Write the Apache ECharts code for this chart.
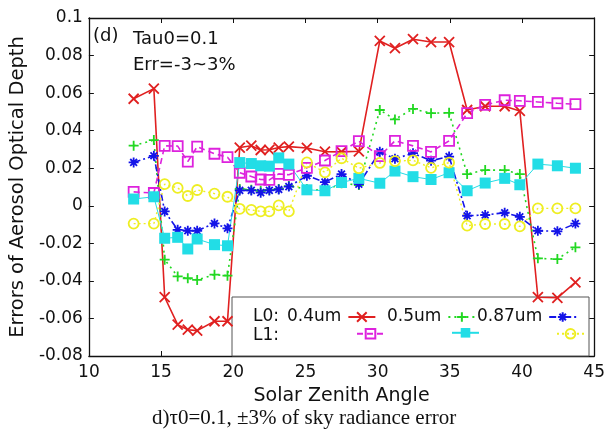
<!DOCTYPE html>
<html>
<head>
<meta charset="utf-8">
<script src="https://cdn.jsdelivr.net/npm/echarts@6/dist/echarts.min.js"></script>
<style>
  html, body { margin: 0; padding: 0; background: #fff; }
  #main { width: 608px; height: 437px; }
</style>
</head>
<body>
<div id="main"></div>
<script>
// solar zenith angles of the sky radiance samples
var zenith = [13.1, 14.5, 15.25, 16.15, 16.85, 17.5, 18.7, 19.6,
  20.45, 21.25, 21.9, 22.5, 23.15, 23.85, 25.1, 26.35, 27.5, 28.7,
  30.15, 31.2, 32.45, 33.7, 34.95, 36.2, 37.45, 38.8, 39.85, 41.1, 42.45, 43.7];

// L0 retrievals
var l0_04 = [0.057, 0.0624, -0.0487, -0.0633, -0.066, -0.0665, -0.0615, -0.0615,
  0.031, 0.032, 0.0297, 0.0298, 0.031, 0.0315, 0.0308, 0.0288, 0.0287, 0.029,
  0.0878, 0.0839, 0.0887, 0.0872, 0.0872, 0.051, 0.053, 0.053, 0.0505, -0.0487, -0.049, -0.0408];
var l0_05 = [0.032, 0.035, -0.0287, -0.0376, -0.0386, -0.0395, -0.0367, -0.0372,
  0.009, 0.0085, 0.008, 0.0085, 0.009, 0.0105, 0.009, 0.008, 0.012, 0.011,
  0.051, 0.046, 0.0516, 0.0493, 0.0495, 0.0169, 0.019, 0.019, 0.0169, -0.028, -0.0284, -0.0221];
var l0_087 = [0.0231, 0.0266, -0.003, -0.0128, -0.0133, -0.0133, -0.0094, -0.012,
  0.0082, 0.0082, 0.007, 0.0082, 0.0087, 0.0102, 0.016, 0.0126, 0.0169, 0.0115,
  0.0288, 0.025, 0.028, 0.024, 0.0262, -0.0053, -0.0049, -0.0037, -0.0059, -0.0133, -0.0136, -0.0095];

// L1 retrievals
var l1_04 = [0.0074, 0.0068, 0.0319, 0.0318, 0.0235, 0.0315, 0.0277, 0.0259,
  0.0176, 0.0156, 0.014, 0.0138, 0.017, 0.0165, 0.0202, 0.0241, 0.0291, 0.0344,
  0.0264, 0.0346, 0.0319, 0.0287, 0.0346, 0.0493, 0.0537, 0.0562, 0.0559, 0.0553, 0.0546, 0.0541];
var l1_05 = [0.0036, 0.0048, -0.0173, -0.0168, -0.023, -0.0177, -0.0207, -0.0213,
  0.023, 0.0225, 0.0213, 0.0211, 0.0255, 0.0222, 0.0085, 0.008, 0.0124, 0.0146,
  0.012, 0.0185, 0.0155, 0.014, 0.0176, 0.008, 0.0121, 0.0146, 0.0112, 0.0222, 0.0213, 0.02];
var l1_087 = [-0.0095, -0.0095, 0.0115, 0.0095, 0.0052, 0.0084, 0.0065, 0.0048,
  -0.0016, -0.0022, -0.003, -0.003, 0.0002, -0.003, 0.0231, 0.0178, 0.0253, 0.02,
  0.0228, 0.0238, 0.0242, 0.0202, 0.023, -0.0106, -0.0097, -0.0097, -0.011, -0.0014, -0.0014, -0.0014];

var FONT = 'DejaVu Sans';
var SYM_X = 'path://M0,0L10,10M10,0L0,10';
var SYM_PLUS = 'path://M5,0L5,10M0,5L10,5';
var SYM_STAR = 'path://M5,0L5,10M0,5L10,5M1.6,1.6L8.4,8.4M8.4,1.6L1.6,8.4';

function pts(vals) {
  return zenith.map(function (x, i) { return [x, vals[i]]; });
}

function mk(name, vals, color, symbol, filled, lineType, lineWidth) {
  return {
    name: name,
    type: 'line',
    data: pts(vals),
    symbol: symbol,
    symbolSize: 10,
    showSymbol: true,
    z: 3,
    lineStyle: { color: color, width: lineWidth, type: lineType },
    itemStyle: {
      color: filled ? color : 'rgba(255,255,255,0)',
      borderColor: color,
      borderWidth: filled ? 0 : 1.8
    }
  };
}

var chart = echarts.init(document.getElementById('main'));

var series = [
  mk('0.4um', l0_04, '#e02020', SYM_X, false, 'solid', 1.6),
  mk('0.5um', l0_05, '#22d822', SYM_PLUS, false, [2, 4], 1.6),
  mk('0.87um', l0_087, '#1414e8', SYM_STAR, false, [7, 3, 2, 3], 1.6),
  mk('L1 0.4um', l1_04, '#dd22dd', 'rect', false, [6, 4], 1.6),
  mk('L1 0.5um', l1_05, '#22dde6', 'rect', true, 'solid', 1),
  mk('L1 0.87um', l1_087, '#eeee22', 'circle', false, [2, 3], 1.4)
];
// filled cyan squares slightly larger
series[4].symbolSize = 11;

function legendItem(name, left, top, showText) {
  return {
    data: [name],
    left: left,
    top: top,
    orient: 'horizontal',
    align: 'right',
    padding: 0,
    itemWidth: 27,
    itemHeight: 12,
    itemGap: 0,
    selectedMode: false,
    formatter: showText ? '{name}' : function () { return ''; },
    textStyle: { fontFamily: FONT, fontSize: 17, color: '#111', lineHeight: 18, padding: [0, 2, 0, 0] }
  };
}

var axisLineStyle = { show: true, onZero: false, lineStyle: { color: '#111', width: 1.3 } };
var tickStyle = { show: true, inside: true, length: 5, lineStyle: { color: '#111' } };

var option = {
  animation: false,
  backgroundColor: '#fff',
  textStyle: { fontFamily: FONT },
  grid: { left: 84, top: 18, width: 513, height: 338 },
  xAxis: [{
    type: 'value', min: 10, max: 45, interval: 5,
    name: 'Solar Zenith Angle', nameLocation: 'middle', nameGap: 31,
    nameTextStyle: { fontFamily: FONT, fontSize: 19, color: '#111' },
    axisLine: axisLineStyle,
    axisTick: tickStyle,
    axisLabel: { fontFamily: FONT, fontSize: 17, color: '#111', margin: 8 },
    splitLine: { show: false }
  }, {
    type: 'value', min: 10, max: 45, interval: 5, position: 'top',
    axisLine: axisLineStyle,
    axisTick: tickStyle,
    axisLabel: { show: false },
    splitLine: { show: false }
  }],
  yAxis: [{
    type: 'value', min: -0.08, max: 0.1, interval: 0.02,
    name: 'Errors of Aerosol Optical Depth', nameLocation: 'middle', nameGap: 58,
    nameTextStyle: { fontFamily: FONT, fontSize: 19.5, color: '#111' },
    axisLine: axisLineStyle,
    axisTick: tickStyle,
    axisLabel: {
      fontFamily: FONT, fontSize: 17, color: '#111', margin: 6,
      formatter: function (v) { return String(Number(v.toFixed(2))); }
    },
    splitLine: { show: false }
  }, {
    type: 'value', min: -0.08, max: 0.1, interval: 0.02, position: 'right',
    axisLine: axisLineStyle,
    axisTick: tickStyle,
    axisLabel: { show: false },
    splitLine: { show: false }
  }],
  legend: [
    legendItem('0.4um', 287, 308, true),
    legendItem('0.5um', 387, 308, true),
    legendItem('0.87um', 477, 308, true),
    legendItem('L1 0.4um', 350, 328, false),
    legendItem('L1 0.5um', 445, 328, false),
    legendItem('L1 0.87um', 550, 328, false)
  ],
  graphic: [
    { type: 'rect', z: 1, shape: { x: 232, y: 297, width: 357, height: 59 },
      style: { fill: '#fff', stroke: '#555', lineWidth: 1 } },
    { type: 'text', z: 5, left: 253, top: 308, style: { text: 'L0:', font: '17px "DejaVu Sans"', fill: '#111' } },
    { type: 'text', z: 5, left: 253, top: 327, style: { text: 'L1:', font: '17px "DejaVu Sans"', fill: '#111' } },
    { type: 'text', z: 5, left: 93, top: 27, style: { text: '(d)', font: '18px "DejaVu Sans"', fill: '#111' } },
    { type: 'text', z: 5, left: 133, top: 30, style: { text: 'Tau0=0.1', font: '18px "DejaVu Sans"', fill: '#111' } },
    { type: 'text', z: 5, left: 133, top: 56, style: { text: 'Err=-3~3%', font: '18px "DejaVu Sans"', fill: '#111' } },
    { type: 'text', z: 5, left: 152, top: 408,
      style: { text: 'd)\u03c40=0.1, \u00b13% of sky radiance error', font: '21px "Liberation Serif"', fill: '#111' } }
  ],
  series: series
};

chart.setOption(option);
</script>
</body>
</html>
